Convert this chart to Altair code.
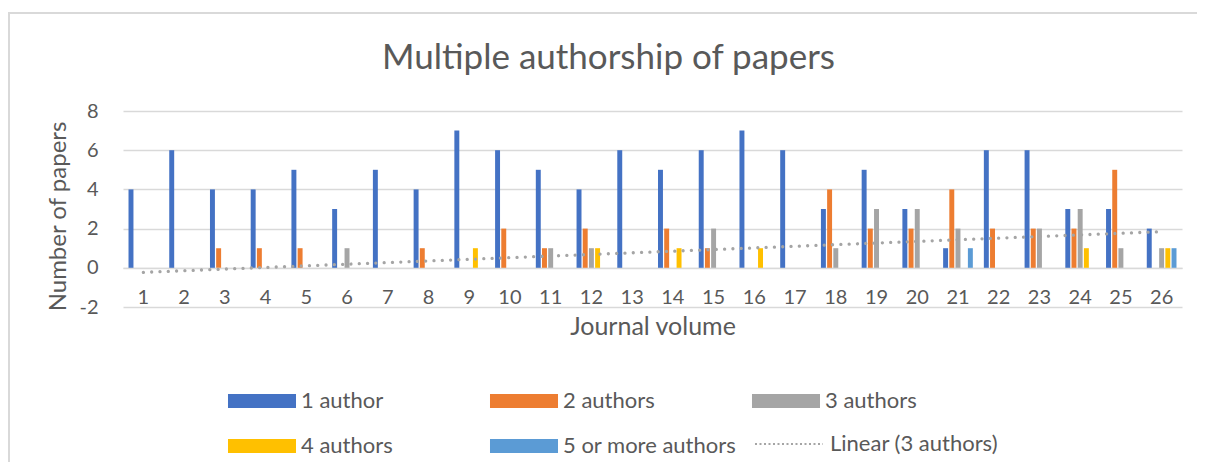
import altair as alt
import pandas as pd

# ---- data ----
volumes = [1, 2, 3, 4, 5, 6, 7, 8, 9, 10, 11, 12, 13, 14, 15, 16, 17, 18, 19, 20, 21, 22, 23, 24, 25, 26]
series_names = ["1 author", "2 authors", "3 authors", "4 authors", "5 or more authors"]
one_author = [4, 6, 4, 4, 5, 3, 5, 4, 7, 6, 5, 4, 6, 5, 6, 7, 6, 3, 5, 3, 1, 6, 6, 3, 3, 2]
two_authors = [0, 0, 1, 1, 1, 0, 0, 1, 0, 2, 1, 2, 0, 2, 1, 0, 0, 4, 2, 2, 4, 2, 2, 2, 5, 0]
three_authors = [0, 0, 0, 0, 0, 1, 0, 0, 0, 0, 1, 1, 0, 0, 2, 0, 0, 1, 3, 3, 2, 0, 2, 3, 1, 1]
four_authors = [0, 0, 0, 0, 0, 0, 0, 0, 1, 0, 0, 1, 0, 1, 0, 1, 0, 0, 0, 0, 0, 0, 0, 1, 0, 1]
five_plus_authors = [0, 0, 0, 0, 0, 0, 0, 0, 0, 0, 0, 0, 0, 0, 0, 0, 0, 0, 0, 0, 1, 0, 0, 0, 0, 1]
series_colors = ["#4472C4", "#ED7D31", "#A5A5A5", "#FFC000", "#5B9BD5"]
trend_label = "Linear (3 authors)"
y_ticks = [-2, 0, 2, 4, 6, 8]

rows = []
for name, vals in zip(series_names, [one_author, two_authors, three_authors, four_authors, five_plus_authors]):
    for v, c in zip(volumes, vals):
        rows.append({"vol": v, "series": name, "count": c})
df = pd.DataFrame(rows)

TEXT = "#595959"
GRID = "#D9D9D9"
FONT = "Lato"

# wide legend swatch: 68 x 14 px drawn with a symbol whose layout size is small
SWATCH_PATH = "M-5,-1.03L5,-1.03L5,1.03L-5,1.03Z"
LINE_PATH = "M-5,0L5,0"
SWATCH_SIZE = 185

x_enc = alt.X(
    "vol:O",
    title="Journal volume",
    scale=alt.Scale(paddingInner=0.24, paddingOuter=0.12),
    axis=alt.Axis(
        labelAngle=0, grid=False, ticks=False, domain=True, domainColor=GRID, domainWidth=1.3,
        offset=-39.2, labelPadding=20, labelFontSize=20, titleFontSize=25, titlePadding=7,
    ),
)
y_enc = alt.Y(
    "count:Q",
    title="Number of papers",
    scale=alt.Scale(domain=[-2, 8], nice=False, zero=True),
    axis=alt.Axis(
        values=y_ticks, grid=True, ticks=False, domain=False, labelPadding=25,
        labelFontSize=20, labelOverlap=False, labelExpr="'' + datum.value",
        titleFontSize=24, titleX=-65, titleY=105, titleAlign="center", titleBaseline="middle",
    ),
)

base = alt.Chart(df)

bars = base.transform_filter("datum.count > 0").mark_bar().encode(
    x=x_enc,
    xOffset=alt.XOffset("series:N", scale=alt.Scale(domain=series_names, paddingInner=0.2, paddingOuter=0.1)),
    y=y_enc,
    color=alt.Color(
        "series:N",
        scale=alt.Scale(domain=series_names, range=series_colors),
        legend=alt.Legend(
            orient="none", legendX=128, legendY=279, columns=3, direction="horizontal", title=None,
            symbolType=SWATCH_PATH, symbolSize=SWATCH_SIZE,
            symbolStrokeWidth=0, symbolOpacity=1, labelFontSize=22, labelOffset=28, labelLimit=400,
            columnPadding=14, rowPadding=23, gridAlign="all", padding=0,
        ),
    ),
)

trend = (
    base.transform_filter(alt.datum.series == "3 authors")
    .transform_regression("vol", "count", extent=[1, 26])
    .transform_calculate(trend="'" + trend_label + "'")
    .mark_line(strokeDash=[0.01, 8.3], strokeCap="round", strokeWidth=3.3)
    .encode(
        x=x_enc,
        y=y_enc,
        color=alt.Color(
            "trend:N",
            scale=alt.Scale(range=["#A5A5A5"]),
            legend=alt.Legend(
                orient="none", legendX=655, legendY=322, title=None, symbolType=LINE_PATH,
                symbolSize=SWATCH_SIZE, symbolStrokeWidth=2, symbolDash=[2, 2.5], labelFontSize=22,
                labelOffset=30, labelLimit=400, padding=0,
            ),
        ),
    )
)

frame = alt.Chart(pd.DataFrame({"k": [0]})).mark_rect(
    fillOpacity=0, stroke=GRID, strokeWidth=2
).encode(x=alt.value(-114), x2=alt.value(1150), y=alt.value(-98), y2=alt.value(420))

chart = (
    alt.layer(frame, bars, trend)
    .resolve_scale(color="independent")
    .properties(
        width=1059,
        height=196,
        autosize=alt.AutoSizeParams(type="none"),
        padding={"left": 115, "top": 103, "right": 15, "bottom": 155},
        title=alt.Title(
            "Multiple authorship of papers", fontSize=35, font=FONT, color=TEXT,
            fontWeight="normal", anchor="middle", frame="group", dx=-44, offset=32, dy=124,
            baseline="alphabetic",
        ),
    )
    .configure(font=FONT)
    .configure_view(stroke=None)
    .configure_axis(
        labelFont=FONT, titleFont=FONT, labelColor=TEXT, titleColor=TEXT,
        titleFontWeight="normal", gridColor=GRID, gridWidth=1.3,
    )
    .configure_legend(labelFont=FONT, labelColor=TEXT)
)

chart.save("out.html", embed_options={"renderer": "svg", "actions": False})
